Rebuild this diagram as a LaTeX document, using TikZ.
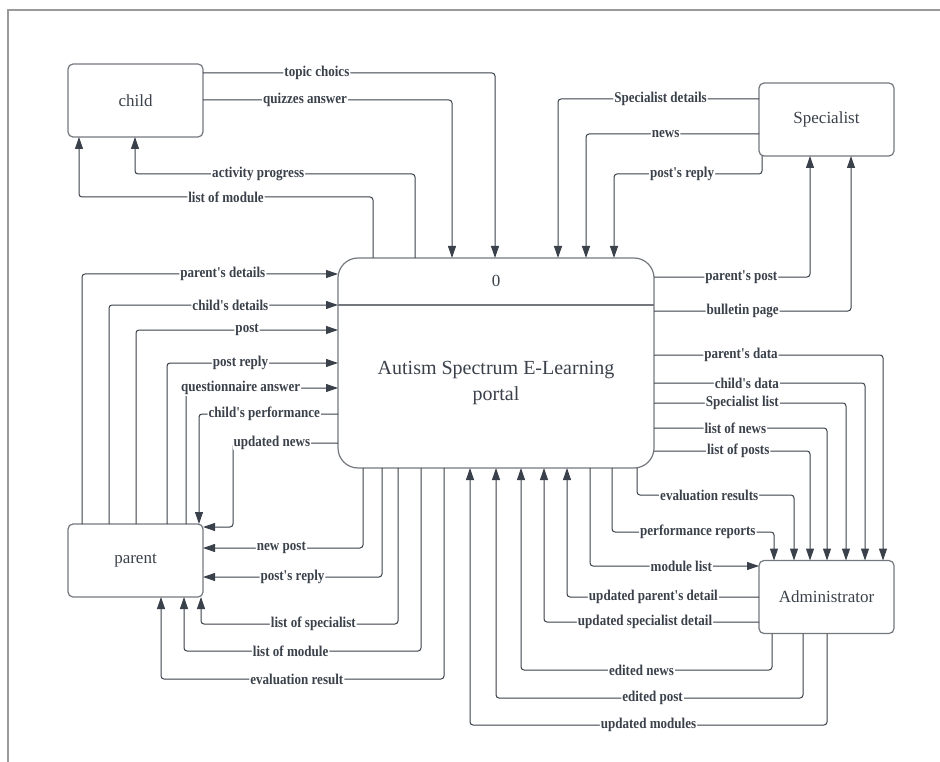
\documentclass[tikz,border=0pt]{standalone}
\usepackage{fontspec}
\setmainfont{Liberation Serif}
\newfontfamily\lblfont{Liberation Serif}[FakeStretch=0.87]
\usetikzlibrary{arrows.meta,positioning,calc}
\definecolor{linegray}{HTML}{3A414A}
\definecolor{boxgray}{HTML}{74787E}
\definecolor{framegray}{HTML}{9A9A9A}
\tikzset{
block/.style = {draw=boxgray, line width=1.2pt, fill=white, rectangle, rounded corners=5pt, minimum width=135pt, minimum height=73pt, inner sep=0pt, outer sep=0pt, text=linegray, font=\fontsize{17}{17}\selectfont},
proc/.style = {draw=boxgray, line width=1.2pt, fill=white, rectangle, rounded corners=20pt, minimum width=316pt, minimum height=210pt, inner sep=0pt, outer sep=0pt},
lbl/.style = {fill=white, inner sep=1pt, text=linegray, font=\lblfont\bfseries\fontsize{15}{15}\selectfont},
flow/.style = {draw=linegray, line width=1pt, rounded corners=3pt}
}

\begin{document}
\begin{tikzpicture}[x=1pt, y=-1pt, >={Triangle[length=12pt,width=8pt]}]
\useasboundingbox (0,0) rectangle (940,762);
\draw [framegray, line width=2.5pt] (8,762) -- (8,10) -- (940,10);

                \node [proc] (proc) at (496,363) {};
                \node [text=linegray, font=\fontsize{17}{17}\selectfont] (zero) at (496,281) {0};
                \node [text=linegray, align=center, font=\fontsize{20}{26}\selectfont] (title) at (496,383) {Autism Spectrum E-Learning\\portal};
                \draw [boxgray, line width=1.2pt] (proc.west |- 0,305) -- (proc.east |- 0,305);

                \node [block] (child) at (135.5,100.5) {child};
                \node [block] (specialist) at (826.5,119.5) {Specialist};
                \node [block] (parent) at (135.5,560.5) {parent};
                \node [block] (admin) at (826.5,597) {Administrator};

                \draw [flow,->] (child.east |- 0,73) -- node[lbl,pos=.39] {topic choics} (495,73) -- (proc.north -| 495,0);
                \draw [flow,->] (child.east |- 0,100) -- node[lbl,pos=.41] {quizzes answer} (452,100) -- (proc.north -| 452,0);
                \draw [flow,->] (proc.north -| 415,0) -- (415,174) -- node[lbl,pos=.56] {activity progress} (135,174) -- (child.south -| 135,0);
                \draw [flow,->] (proc.north -| 373,0) -- (373,197) -- node[lbl,pos=.50] {list of module} (79,197) -- (child.south -| 79,0);

                \draw [flow,->] (specialist.west |- 0,99) -- node[lbl,pos=.49] {Specialist details} (558,99) -- (proc.north -| 558,0);
                \draw [flow,->] (specialist.west |- 0,134) -- node[lbl,pos=.54] {news} (586,134) -- (proc.north -| 586,0);
                \draw [flow,->] (specialist.south -| 762,0) -- (762,174) -- node[lbl,pos=.54] {post's reply} (614,174) -- (proc.north -| 614,0);
                \draw [flow,->] (proc.east |- 0,277) -- node[lbl,pos=.56] {parent's post} (810,277) -- (specialist.south -| 810,0);
                \draw [flow,->] (proc.east |- 0,311) -- node[lbl,pos=.45] {bulletin page} (851,311) -- (specialist.south -| 851,0);

                \draw [flow,->] (parent.north -| 82,0) -- (82,274) -- node[lbl,pos=.55] {parent's details} (proc.west |- 0,274);
                \draw [flow,->] (parent.north -| 109,0) -- (109,305) -- node[lbl,pos=.53] {child's details} (proc.west |- 0,305);
                \draw [flow,->] (parent.north -| 136,0) -- (136,330) -- node[lbl,pos=.55] {post} (proc.west |- 0,330);
                \draw [flow,->] (parent.north -| 167,0) -- (167,363) -- node[lbl,pos=.43] {post reply} (proc.west |- 0,363);
                \draw [flow,->] (parent.north -| 186,0) -- (186,388) -- node[lbl,pos=.36] {questionnaire answer} (proc.west |- 0,388);
                \draw [flow,->] (proc.west |- 0,414) -- node[lbl,pos=.53] {child's performance} (199,414) -- (parent.north -| 199,0);
                \draw [flow,->] (proc.west |- 0,443) -- node[lbl,pos=.63] {updated news} (233,443) -- (233,527) -- (parent.east |- 0,527);
                \draw [flow,->] (proc.south -| 363,0) -- (363,548) -- node[lbl,pos=.51] {new post} (parent.east |- 0,548);
                \draw [flow,->] (proc.south -| 382,0) -- (382,577) -- node[lbl,pos=.50] {post's reply} (parent.east |- 0,577);
                \draw [flow,->] (proc.south -| 398,0) -- (398,624) -- node[lbl,pos=.43] {list of specialist} (201,624) -- (parent.south -| 201,0);
                \draw [flow,->] (proc.south -| 421,0) -- (421,651) -- node[lbl,pos=.55] {list of module} (184,651) -- (parent.south -| 184,0);
                \draw [flow,->] (proc.south -| 444,0) -- (444,679) -- node[lbl,pos=.52] {evaluation result} (161,679) -- (parent.south -| 161,0);

                \draw [flow,->] (admin.west |- 0,597) -- node[lbl,pos=.55] {updated parent's detail} (567,597) -- (proc.south -| 567,0);
                \draw [flow,->] (admin.west |- 0,622) -- node[lbl,pos=.53] {updated specialist detail} (544,622) -- (proc.south -| 544,0);
                \draw [flow,->] (admin.south -| 772,0) -- (772,670) -- node[lbl,pos=.52] {edited news} (521,670) -- (proc.south -| 521,0);
                \draw [flow,->] (admin.south -| 803,0) -- (803,698) -- node[lbl,pos=.49] {edited post} (496,698) -- (proc.south -| 496,0);
                \draw [flow,->] (admin.south -| 827,0) -- (827,725) -- node[lbl,pos=.50] {updated modules} (470,725) -- (proc.south -| 470,0);
                \draw [flow,->] (proc.south -| 590,0) -- (590,566) -- node[lbl,pos=.54] {module list} (admin.west |- 0,566);
                \draw [flow,->] (proc.south -| 612,0) -- (612,532) -- node[lbl,pos=.53] {performance reports} (774,532) -- (admin.north -| 774,0);
                \draw [flow,->] (proc.south -| 637,0) -- (637,495) -- node[lbl,pos=.46] {evaluation results} (794,495) -- (admin.north -| 794,0);
                \draw [flow,->] (proc.east |- 0,451) -- node[lbl,pos=.54] {list of posts} (810,451) -- (admin.north -| 810,0);
                \draw [flow,->] (proc.east |- 0,428) -- node[lbl,pos=.47] {list of news} (827,428) -- (admin.north -| 827,0);
                \draw [flow,->] (proc.east |- 0,403) -- node[lbl,pos=.46] {Specialist list} (846,403) -- (admin.north -| 846,0);
                \draw [flow,->] (proc.east |- 0,383) -- node[lbl,pos=.44] {child's data} (865,383) -- (admin.north -| 865,0);
                \draw [flow,->] (proc.east |- 0,355) -- node[lbl,pos=.38] {parent's data} (883,355) -- (admin.north -| 883,0);
\end{tikzpicture}
\end{document}
